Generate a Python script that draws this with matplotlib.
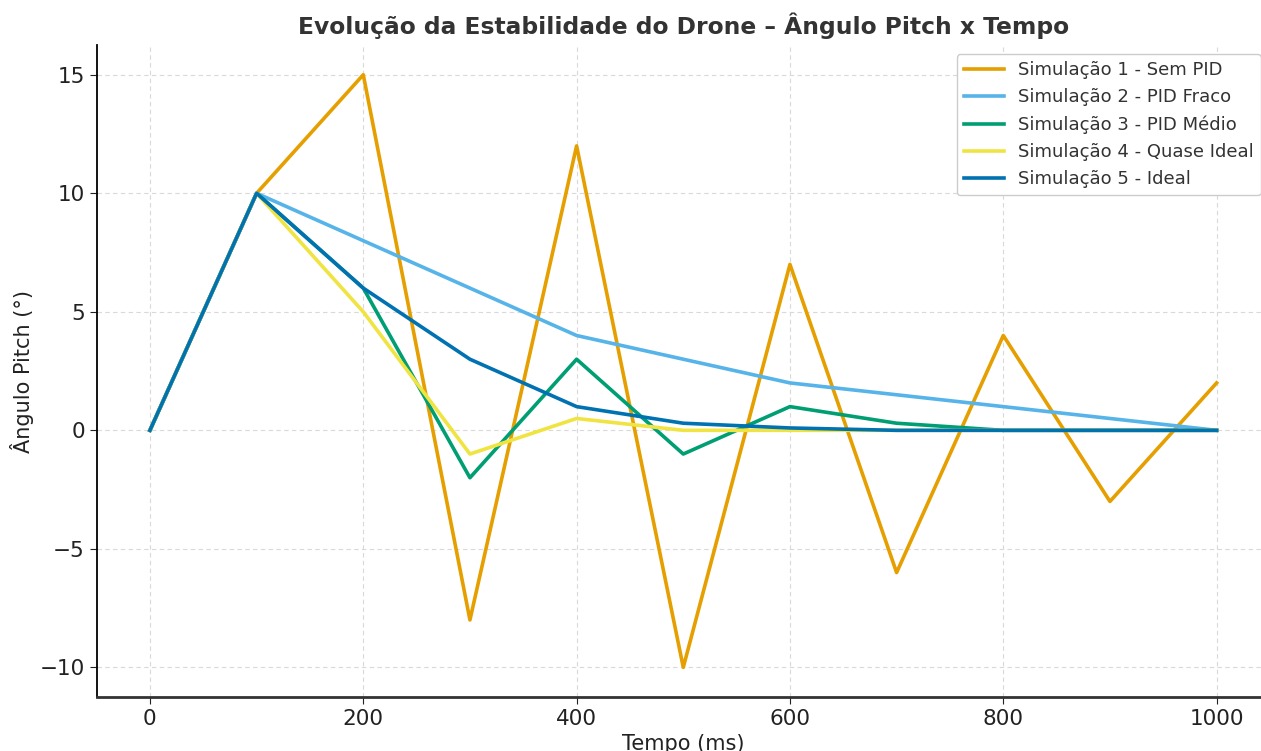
import matplotlib
matplotlib.use("Agg")
import matplotlib.pyplot as plt

tempo = [0, 100, 200, 300, 400, 500, 600, 700, 800, 900, 1000]
sim1 = [0, 10, 15, -8, 12, -10, 7, -6, 4, -3, 2]
sim2 = [0, 10, 8, 6, 4, 3, 2, 1.5, 1, 0.5, 0]
sim3 = [0, 10, 6, -2, 3, -1, 1, 0.3, 0, 0, 0]
sim4 = [0, 10, 5, -1, 0.5, 0, 0, 0, 0, 0, 0]
sim5 = [0, 10, 6, 3, 1, 0.3, 0.1, 0, 0, 0, 0]
labels = ["Simulação 1 - Sem PID", "Simulação 2 - PID Fraco", "Simulação 3 - PID Médio",
          "Simulação 4 - Quase Ideal", "Simulação 5 - Ideal"]
colors = ["#E69F00", "#56B4E9", "#009E73", "#F0E442", "#0072B2"]

fig = plt.figure(figsize=(12.61, 7.51), dpi=100)
ax = fig.add_axes([0.0766, 0.0719, 0.9305, 0.868])
for y, lab, c in zip([sim1, sim2, sim3, sim4, sim5], labels, colors):
    ax.plot(tempo, y, color=c, lw=2.6, label=lab)

ax.set_xlim(-50, 1050)
ax.set_ylim(-11.25, 16.25)
ax.grid(True, linestyle=(0, (4, 3)), color="#d9d9d9", lw=0.8)
for s in ["top", "right"]:
    ax.spines[s].set_visible(False)
ax.spines["left"].set_linewidth(1.3)
ax.spines["bottom"].set_linewidth(2.0)
ax.spines["bottom"].set_color("#333333")
ax.tick_params(labelsize=15.5, length=5, colors="#222222")
ax.set_title("Evolução da Estabilidade do Drone – Ângulo Pitch x Tempo",
             fontsize=16.8, fontweight="bold", color="#333333", pad=8)
ax.set_xlabel("Tempo (ms)", fontsize=15, color="#222222", labelpad=4)
ax.set_ylabel("Ângulo Pitch (°)", fontsize=15, color="#222222")
leg = ax.legend(loc="upper right", bbox_to_anchor=(1.0, 1.0), fontsize=13,
                frameon=True, framealpha=1, edgecolor="#cccccc", handlelength=2.2)
for t in leg.get_texts():
    t.set_color("#333333")
fig.savefig("out.png", dpi=100)
